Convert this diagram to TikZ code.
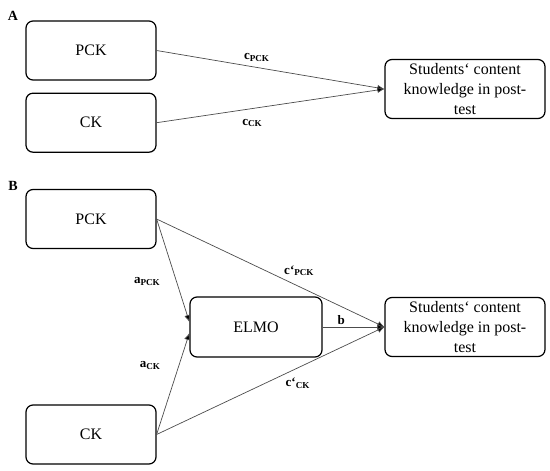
\documentclass[tikz,border=0pt]{standalone}
\usepackage{fontspec}
\setmainfont{Liberation Serif}
\usepackage{tikz}
\usetikzlibrary{arrows.meta,positioning}

\begin{document}
\begin{tikzpicture}[
    x=1pt, y=-1pt,
    node distance=12pt and 34pt,
    box/.style={rectangle, rounded corners=7pt, minimum width=130pt, minimum height=59pt, inner sep=0pt, text centered, draw=black, line width=1.2pt, font=\fontsize{16}{20}\selectfont},
    outcome/.style={box, minimum width=160pt, align=center},
    panel/.style={font=\fontsize{14}{16}\selectfont\bfseries},
    coef/.style={font=\fontsize{13}{15}\selectfont\bfseries, inner sep=2pt},
    arrow/.style={draw=black!70, line width=0.7pt, -{Latex[length=7pt,width=6pt,fill=black]}}
]
\useasboundingbox (0,0) rectangle (550,471);

% Teil A: direkter Effekt
\node (labA) [panel] at (13,16) {A};
\node (pckA) [box] at (91,50.5) {PCK};
\node (ckA) [box, below=of pckA] {CK};
\node (postA) [outcome] at (465,89) {Students‘ content\\knowledge in post-\\test};

% Teil B: Mediation ueber ELMO
\node (labB) [panel] at (13,186) {B};
\node (pckB) [box] at (91,219) {PCK};
\node (elmo) [box, minimum width=132pt, minimum height=60pt] at (256,327) {ELMO};
\node (ckB) [box] at (91,434.5) {CK};
\node (postB) [outcome] at (465,327) {Students‘ content\\knowledge in post-\\test};

% Pfeile A
\draw [arrow] (pckA.east) -- node[coef, pos=0.44, above=4pt] {c\textsubscript{PCK}} (postA.west);
\draw [arrow] (ckA.east) -- node[coef, pos=0.42, below=8pt] {c\textsubscript{CK}} (postA.west);

% Pfeile B
\draw [arrow] (pckB.east) -- node[coef, pos=0.61, left=14pt] {a\textsubscript{PCK}} ([yshift=5pt]elmo.west);
\draw [arrow] (ckB.east) -- node[coef, pos=0.68, left=16pt] {a\textsubscript{CK}} ([yshift=-6pt]elmo.west);
\draw [arrow] (pckB.east) -- node[coef, pos=0.55, above right=0pt] {c‘\textsubscript{PCK}} (postB.west);
\draw [arrow] (ckB.east) -- node[coef, pos=0.62, below=8pt] {c‘\textsubscript{CK}} (postB.west);
\draw [arrow] (elmo.east) -- node[coef, pos=0.3, above] {b} (postB.west);

\end{tikzpicture}
\end{document}
